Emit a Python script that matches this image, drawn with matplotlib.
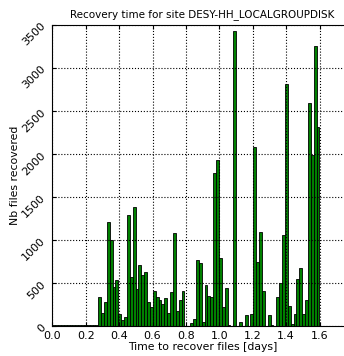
import numpy as np
from matplotlib import pyplot as plt

# Histogram of recovery times (days), 0.0172 day bins starting at 0
bin_width = 0.0172
counts = [12, 10, 14, 9, 11, 13, 8, 10, 12, 9, 6, 10, 8, 12, 9, 14,
          333, 147, 275, 1213, 1000, 450, 535, 140, 70, 101,
          1291, 570, 1380, 426, 709, 593, 624, 283, 217, 411,
          341, 300, 256, 326, 147, 395, 1085, 174, 302, 411,
          0, 0, 38, 78, 768, 737, 45, 477, 349, 340,
          1780, 1925, 787, 225, 438, 10, 0, 3435, 0, 50,
          0, 128, 0, 140, 2086, 748, 1097, 411, 0, 128,
          10, 0, 341, 504, 1058, 2811, 233, 20, 136, 543,
          671, 136, 300, 2590, 1989, 3256, 2318]
left_edges = np.arange(len(counts)) * bin_width

xticks = [0.0, 0.2, 0.4, 0.6, 0.8, 1.0, 1.2, 1.4, 1.6]
yticks = [0, 500, 1000, 1500, 2000, 2500, 3000, 3500]

fig = plt.figure(figsize=(3.44, 3.56), dpi=100)
ax = fig.add_axes([52.3 / 344, 30 / 356, 300.6 / 344, 301 / 356])

ax.bar(left_edges, counts, width=bin_width, align='edge',
       color='green', edgecolor='black', linewidth=0.6)

ax.set_xlim(0, 1.8)
ax.set_ylim(0, 3500)
ax.set_xticks(xticks)
ax.set_xticklabels(['%.1f' % x for x in xticks])
ax.set_yticks(yticks)
ax.set_yticklabels([str(y) for y in yticks], rotation=45)
ax.tick_params(direction='in', top=True, right=True, labelsize=8, length=3)
ax.set_axisbelow(False)
ax.grid(True, linestyle=':', color='k', linewidth=0.8)

ax.set_title('Recovery time for site DESY-HH_LOCALGROUPDISK', fontsize=7.5)
ax.set_xlabel('Time to recover files [days]', fontsize=7.8, labelpad=1)
ax.set_ylabel('Nb files recovered', fontsize=7.8, labelpad=0.5)

plt.savefig('out.png', dpi=100)
